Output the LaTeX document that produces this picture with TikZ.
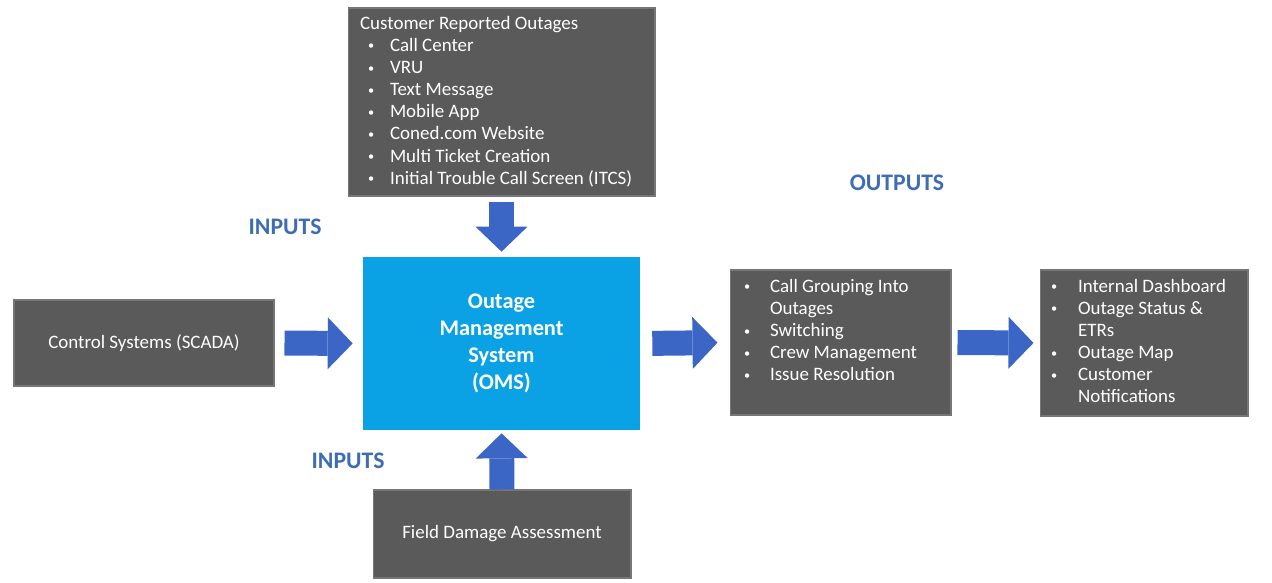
\documentclass[tikz,border=0pt]{standalone}
\usepackage{fontspec}
\setmainfont{Carlito}
\usetikzlibrary{arrows.meta}

\definecolor{boxgrey}{HTML}{5A5A5A}
\definecolor{boxedge}{HTML}{767676}
\definecolor{omsblue}{HTML}{0AA2E4}
\definecolor{flowblue}{HTML}{3B66C6}
\definecolor{labelblue}{HTML}{3F6DB5}

% one bulleted entry: #1 bullet indent, #2 text indent, #3 text
\newcommand\bulletline[3]{%
  \par\hangindent=#2\hangafter=1\noindent
  \makebox[#2][l]{\hspace{#1}\raisebox{0.15ex}{\fontsize{7}{7}\selectfont\textbullet}}#3}

\tikzset{
  greybox/.style={fill=boxgrey, draw=boxedge, line width=0.6pt, text=white,
    inner sep=0pt, font=\fontsize{10.8}{12.6}\selectfont},
  omsbox/.style={fill=omsblue, draw=none, text=white, inner sep=0pt,
    align=center, font=\bfseries\fontsize{12.7}{15.3}\selectfont},
  flowarrow/.style={draw=flowblue, line width=0.5cm,
    -{Triangle[length=0.5cm, width=1.04cm, line width=0pt]}},
  flowlabel/.style={text=labelblue, inner sep=0pt,
    font=\bfseries\fontsize{13.5}{16}\selectfont},
}

\begin{document}
\begin{tikzpicture}[x=0.02cm, y=-0.02cm]
\useasboundingbox (0,0) rectangle (1272,582);

% central system
\node[omsbox, minimum width=5.54cm, minimum height=3.46cm] (oms) at (501.5,343.5)
  {Outage\\Management\\System\\(OMS)};

% customer-reported sources
\node[greybox] (calls) at (501.5,102) {%
  \begin{minipage}[c][3.76cm][t]{6.14cm}\raggedright
  \vspace*{0.16cm}\hspace*{0.24cm}Customer Reported Outages
  \bulletline{0.4cm}{0.84cm}{Call Center}
  \bulletline{0.4cm}{0.84cm}{VRU}
  \bulletline{0.4cm}{0.84cm}{Text Message}
  \bulletline{0.4cm}{0.84cm}{Mobile App}
  \bulletline{0.4cm}{0.84cm}{Coned.com Website}
  \bulletline{0.4cm}{0.84cm}{Multi Ticket Creation}
  \bulletline{0.4cm}{0.84cm}{Initial Trouble Call Screen (ITCS)}
  \end{minipage}};

% SCADA input
\node[greybox, minimum width=5.2cm, minimum height=1.72cm] (scada) at (144,343)
  {Control Systems (SCADA)};

% field input
\node[greybox, minimum width=5.16cm, minimum height=1.76cm] (field) at (502,534)
  {Field Damage Assessment};

% processing outputs
\node[greybox] (process) at (840.5,342.5) {%
  \begin{minipage}[c][2.9cm][t]{4.42cm}\raggedright
  \vspace*{0.18cm}%
  \bulletline{0.28cm}{0.8cm}{Call Grouping Into\newline Outages}
  \bulletline{0.28cm}{0.8cm}{Switching}
  \bulletline{0.28cm}{0.8cm}{Crew Management}
  \bulletline{0.28cm}{0.8cm}{Issue Resolution}
  \end{minipage}};

% published outputs
\node[greybox] (publish) at (1144,343) {%
  \begin{minipage}[c][2.92cm][t]{4.16cm}\raggedright
  \vspace*{0.18cm}%
  \bulletline{0.22cm}{0.76cm}{Internal Dashboard}
  \bulletline{0.22cm}{0.76cm}{Outage Status \&\newline ETRs}
  \bulletline{0.22cm}{0.76cm}{Outage Map}
  \bulletline{0.22cm}{0.76cm}{Customer\newline Notifications}
  \end{minipage}};

% labels
\node[flowlabel] (inA) at (285,227) {INPUTS};
\node[flowlabel] (inB) at (348,461) {INPUTS};
\node[flowlabel] (outA) at (897,183) {OUTPUTS};

% flow arrows
\draw[flowarrow, shorten <=0.1cm, shorten >=0.1cm] (calls.south) -- (oms.north);
\draw[flowarrow, shorten <=0.2cm, shorten >=0.2cm] (scada.east) -- (oms.west);
\draw[flowarrow, shorten >=0.06cm] (field.north) -- (oms.south);
\draw[flowarrow, shorten <=0.24cm, shorten >=0.24cm] (oms.east) -- (process.west);
\draw[flowarrow, shorten <=0.12cm, shorten >=0.12cm] (process.east) -- (publish.west);
\end{tikzpicture}
\end{document}
